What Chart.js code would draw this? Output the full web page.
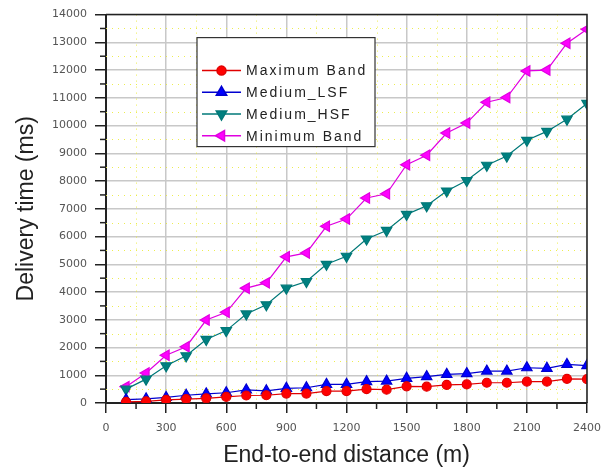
<!DOCTYPE html>
<html>
<head>
<meta charset="utf-8">
<script src="https://cdn.jsdelivr.net/npm/chart.js@4"></script>
<style>
html, body { margin: 0; padding: 0; background: #fff; }
</style>
</head>
<body>
<canvas id="grafico" width="611" height="472"></canvas>
<script>
// distancia en metros
const distancias = [100, 200, 300, 400, 500, 600, 700, 800, 900, 1000, 1100, 1200,
  1300, 1400, 1500, 1600, 1700, 1800, 1900, 2000, 2100, 2200, 2300, 2400];

const maximumBand = [40, 60, 110, 140, 170, 220, 270, 280, 340, 340, 430, 430,
  500, 480, 600, 590, 650, 670, 730, 730, 770, 770, 870, 860];
const mediumLSF = [120, 150, 200, 280, 330, 370, 470, 440, 530, 550, 670, 670,
  770, 790, 890, 950, 1030, 1060, 1150, 1150, 1270, 1250, 1390, 1350];
const mediumHSF = [500, 860, 1340, 1700, 2290, 2610, 3210, 3540, 4140, 4380, 5000, 5290,
  5910, 6220, 6800, 7110, 7640, 8020, 8570, 8900, 9470, 9790, 10230, 10800];
const minimumBand = [590, 1080, 1720, 2030, 2990, 3270, 4140, 4330, 5270, 5410, 6370, 6630,
  7390, 7540, 8590, 8930, 9730, 10090, 10840, 11010, 11970, 12000, 12970, 13470];

const nombresSeries = ["Maximum Band", "Medium_LSF", "Medium_HSF", "Minimum Band"];

// lineas menores: cada 150 m y cada 500 ms
const menoresX = [150, 450, 750, 1050, 1350, 1650, 1950, 2250];
const menoresY = [500, 1500, 2500, 3500, 4500, 5500, 6500, 7500, 8500, 9500, 10500, 11500, 12500, 13500];

function puntos(valores) {
  return distancias.map((d, i) => ({ x: d, y: valores[i] }));
}

const grillaMenor = {
  id: "grillaMenor",
  beforeDatasetsDraw(chart) {
    const { ctx, chartArea: a, scales } = chart;
    ctx.save();
    ctx.strokeStyle = "rgba(235,235,60,0.9)";
    ctx.lineWidth = 1;
    ctx.setLineDash([1, 5]);
    menoresX.forEach(v => {
      const px = Math.round(scales.x.getPixelForValue(v)) + 0.5;
      ctx.beginPath(); ctx.moveTo(px, a.top); ctx.lineTo(px, a.bottom); ctx.stroke();
    });
    menoresY.forEach(v => {
      const py = Math.round(scales.y.getPixelForValue(v)) + 0.5;
      ctx.beginPath(); ctx.moveTo(a.left, py); ctx.lineTo(a.right, py); ctx.stroke();
    });
    ctx.restore();
  },
  afterDraw(chart) {
    const { ctx, chartArea: a, scales } = chart;
    ctx.save();
    // marco arriba y derecha
    ctx.strokeStyle = "#222";
    ctx.lineWidth = 1.5;
    ctx.beginPath();
    ctx.moveTo(a.left, a.top); ctx.lineTo(a.right, a.top); ctx.lineTo(a.right, a.bottom);
    ctx.stroke();
    // ticks menores
    ctx.lineWidth = 1.5;
    menoresX.forEach(v => {
      const px = scales.x.getPixelForValue(v);
      ctx.beginPath(); ctx.moveTo(px, a.bottom); ctx.lineTo(px, a.bottom + 6); ctx.stroke();
    });
    menoresY.forEach(v => {
      const py = scales.y.getPixelForValue(v);
      ctx.beginPath(); ctx.moveTo(a.left, py); ctx.lineTo(a.left - 6, py); ctx.stroke();
    });

    // leyenda
    const x0 = a.left + 91, y0 = a.top + 23, w = 178, h = 109;
    ctx.fillStyle = "#fff";
    ctx.fillRect(x0, y0, w, h);
    ctx.strokeStyle = "#333";
    ctx.lineWidth = 1.2;
    ctx.strokeRect(x0, y0, w, h);
    ctx.font = "14px 'Liberation Sans', Arial, sans-serif";
    ctx.letterSpacing = "2px";
    ctx.textBaseline = "middle";
    chart.data.datasets.forEach((ds, i) => {
      const yy = y0 + 33 + i * 21.7;
      ctx.strokeStyle = ds.borderColor;
      ctx.lineWidth = 1.5;
      ctx.beginPath(); ctx.moveTo(x0 + 5, yy); ctx.lineTo(x0 + 44, yy); ctx.stroke();
      ctx.fillStyle = ds.backgroundColor;
      Chart.helpers.drawPoint(ctx, {
        pointStyle: ds.pointStyle, radius: ds.pointRadius,
        rotation: ds.pointRotation || 0, borderWidth: 1
      }, x0 + 24.5, yy);
      ctx.fillStyle = "#222";
      ctx.fillText(ds.label, x0 + 49, yy + 1);
    });
    ctx.restore();
  }
};

const ctx = document.getElementById("grafico").getContext("2d");
const fuenteTicks = { family: "'DejaVu Sans', sans-serif", size: 11 };
const fuenteTitulo = { family: "'Liberation Sans', Arial, sans-serif", size: 23 };

new Chart(ctx, {
  type: "line",
  data: {
    datasets: [
      { label: nombresSeries[0], data: puntos(maximumBand), borderColor: "#e00000", backgroundColor: "#ff0000",
        pointStyle: "circle", pointRadius: 4.5, borderWidth: 1.2 },
      { label: nombresSeries[1], data: puntos(mediumLSF), borderColor: "#0000d0", backgroundColor: "#0000ff",
        pointStyle: "triangle", pointRadius: 6, borderWidth: 1.2 },
      { label: nombresSeries[2], data: puntos(mediumHSF), borderColor: "#007878", backgroundColor: "#008080",
        pointStyle: "triangle", pointRotation: 180, pointRadius: 6, borderWidth: 1.2 },
      { label: nombresSeries[3], data: puntos(minimumBand), borderColor: "#e000e0", backgroundColor: "#ff00ff",
        pointStyle: "triangle", pointRotation: 270, pointRadius: 6, borderWidth: 1.2 }
    ]
  },
  options: {
    responsive: false,
    animation: false,
    layout: { padding: { top: 12, right: 24, left: 0, bottom: 0 } },
    plugins: { legend: { display: false }, tooltip: { enabled: false } },
    elements: { point: { borderWidth: 1 }, line: { tension: 0 } },
    scales: {
      x: {
        type: "linear", min: 0, max: 2400,
        afterFit(scale) { scale.height = 69; },
        ticks: { stepSize: 300, color: "#555", font: fuenteTicks, padding: 9, maxRotation: 0,
          callback: v => String(v) },
        grid: { color: "#c8c8c8", lineWidth: 1.5, tickColor: "#222", tickLength: 10, tickWidth: 1.5 },
        border: { color: "#222", width: 2 },
        title: { display: true, text: "End-to-end distance (m)", color: "#222", font: fuenteTitulo,
          padding: { top: 0, bottom: 3 } }
      },
      y: {
        min: 0, max: 14000,
        afterFit(scale) { scale.width = 106; },
        ticks: { stepSize: 1000, color: "#555", font: fuenteTicks, padding: 8,
          callback: v => String(v) },
        grid: { color: "#c8c8c8", lineWidth: 1.5, tickColor: "#222", tickLength: 11, tickWidth: 1.5 },
        border: { color: "#222", width: 2 },
        title: { display: true, text: "Delivery time (ms)", color: "#222", font: fuenteTitulo,
          padding: { top: 13, bottom: 0 } }
      }
    }
  },
  plugins: [grillaMenor]
});
</script>
</body>
</html>
